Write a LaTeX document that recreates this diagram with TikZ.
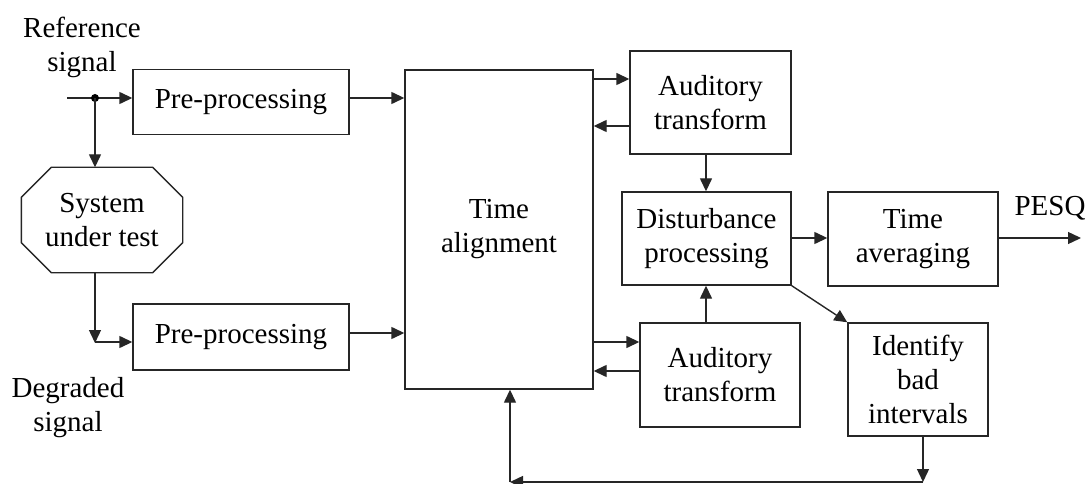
\documentclass[tikz,border=0pt]{standalone}
\usepackage{fontspec}
\setmainfont{Liberation Serif}
\usetikzlibrary{arrows.meta}
\begin{document}
\begin{tikzpicture}[x=1pt,y=-1pt,
  line width=1.4pt, draw=black!85,
  arr/.style={-{Triangle[length=13pt,width=12pt]}},
  blk/.style={draw, rectangle, inner sep=0pt, align=center,
              font=\fontsize{29}{34}\selectfont},
  lbl/.style={inner sep=0pt, align=center, font=\fontsize{29}{34}\selectfont}]
\useasboundingbox (0,0) rectangle (1085,484);

% processing blocks
\node[blk, minimum width=216pt, minimum height=65pt] (pp1) at (241,102) {Pre-processing};
\node[blk, minimum width=216pt, minimum height=66pt] (pp2) at (241,337) {Pre-processing};
\node[blk, minimum width=188pt, minimum height=319pt] (ta) at (499,229.5) {Time\\alignment};
\node[blk, minimum width=161pt, minimum height=103pt] (at1) at (710.5,102.5) {Auditory\\transform};
\node[blk, minimum width=169pt, minimum height=93pt] (dp) at (706.5,238.5) {Disturbance\\processing};
\node[blk, minimum width=160pt, minimum height=104pt] (at2) at (720,375) {Auditory\\transform};
\node[blk, minimum width=170pt, minimum height=94pt] (tavg) at (913,239) {Time\\averaging};
\node[blk, minimum width=140pt, minimum height=113pt] (ibi) at (918,379.5) {Identify\\bad\\intervals};

% system under test (octagon)
\node[lbl, minimum width=160pt, minimum height=104pt] (sut) at (102,220) {System\\under test};
\draw ([xshift=30pt]sut.north west) -- ([xshift=-30pt]sut.north east)
  -- ([yshift=-30pt]sut.north east) -- ([yshift=30pt]sut.south east)
  -- ([xshift=-30pt]sut.south east) -- ([xshift=30pt]sut.south west)
  -- ([yshift=30pt]sut.south west) -- ([yshift=-30pt]sut.north west) -- cycle;

% text labels
\node[lbl] (reflbl) at (82,47) {Reference\\signal};
\node[lbl] (deglbl) at (68,408) {Degraded\\signal};
\node[lbl] (pesq) at (1050,208) {PESQ};

% junctions and free ends
\coordinate (in) at (67,98);
\coordinate (dot) at (95,98);
\coordinate (sutout) at (95,272);
\coordinate (degin) at (95,342);
\coordinate (out) at (1081,238);
\coordinate (fbr) at (923,482);
\coordinate (fbl) at (510,482);

% reference path
\draw[arr] (in) -- (in -| pp1.west);
\fill (dot) circle (4pt);
\draw[arr] (dot) -- (dot |- sut.north);
\draw[arr] (pp1.east |- in) -- (ta.west |- in);

% degraded path
\draw[arr] (sutout) -- ([yshift=-1pt]degin);
\draw[arr] (degin) -- (degin -| pp2.west);
\draw[arr] (pp2.east |- 0,333) -- (ta.west |- 0,333);

% auditory transforms
\draw[arr] (ta.east |- 0,79) -- (at1.west |- 0,79);
\draw[arr] (at1.west |- 0,126) -- (ta.east |- 0,126);
\draw[arr] (ta.east |- 0,342) -- (at2.west |- 0,342);
\draw[arr] (at2.west |- 0,371) -- (ta.east |- 0,371);
\draw[arr] (at1.south -| 706,0) -- (dp.north -| 706,0);
\draw[arr] (at2.north -| 706,0) -- (dp.south -| 706,0);

% disturbance to outputs
\draw[arr] (dp.east |- 0,238) -- (tavg.west |- 0,238);
\draw[arr] (tavg.east |- out) -- (out);
\draw[arr] (dp.south east) -- (ibi.north west);

% feedback of bad intervals
\draw[arr] (ibi.south -| fbr) -- (fbr);
\draw[arr] (fbr) -- (fbl);
\draw[arr] (fbl) -- (ta.south -| fbl);
\end{tikzpicture}
\end{document}
